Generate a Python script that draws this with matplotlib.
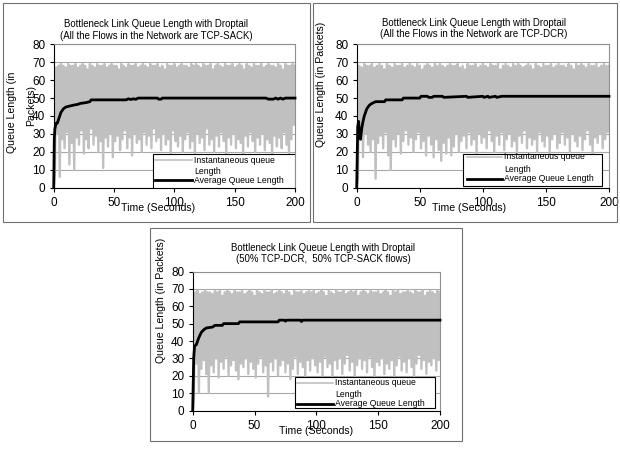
import numpy as np
import matplotlib
matplotlib.use('Agg')
from matplotlib import pyplot as plt
from matplotlib.patches import Rectangle

plt.rcParams['font.family'] = ['Liberation Sans', 'DejaVu Sans']

W, H = 620, 449
GRAY = '#c0c0c0'

# instantaneous queue: peaks at t = 0, 2, ..., 200 and troughs at t = 1, 3, ..., 199 (packets)
sack_highs = [0, 67, 68, 69, 68, 67, 69, 68, 68, 69,
              67, 68, 69, 68, 66, 69, 68, 67, 69, 68,
              68, 69, 67, 68, 69, 68, 68, 66, 69, 68,
              67, 69, 68, 68, 69, 67, 68, 69, 68, 67,
              69, 68, 68, 69, 67, 68, 66, 69, 68, 68,
              69, 67, 68, 69, 68, 68, 67, 69, 68, 69,
              68, 67, 69, 68, 68, 69, 66, 68, 69, 68,
              67, 69, 68, 68, 69, 67, 68, 69, 68, 66,
              69, 68, 67, 69, 68, 68, 69, 67, 68, 69,
              68, 68, 67, 69, 68, 66, 69, 68, 68, 69, 68]
sack_lows = [8, 30, 6, 27, 22, 31, 13, 25, 10, 28,
             24, 32, 19, 27, 22, 33, 24, 29, 20, 26,
             11, 28, 23, 30, 17, 26, 29, 21, 27, 32,
             22, 28, 18, 30, 25, 27, 20, 31, 24, 29,
             22, 33, 26, 28, 21, 30, 24, 27, 19, 32,
             26, 23, 29, 20, 27, 31, 22, 26, 19, 30,
             25, 28, 21, 33, 24, 27, 20, 29, 23, 31,
             26, 18, 28, 24, 30, 22, 27, 25, 19, 29,
             23, 31, 26, 20, 28, 24, 30, 21, 27, 25,
             18, 29, 23, 28, 22, 31, 24, 19, 27, 35]
sack_avg_t = [0, 0.5, 1, 2, 3, 4, 5, 6, 8, 10, 13, 16, 20, 22, 27, 30, 31, 60, 62, 64, 66, 68, 70,
              86, 87, 89, 90, 176, 178, 182, 184, 186, 188, 190, 192, 200]
sack_avg_q = [0, 28, 33, 36, 36, 38, 40, 42, 44, 45, 45.5, 46, 46.5, 47, 47.5, 48, 49, 49, 49.6, 49.2, 49.6, 49.3, 50,
              50, 49.4, 49.4, 50, 50, 49.4, 49.4, 50, 49.4, 50, 49.4, 50, 50]

dcr_highs = [0, 68, 67, 69, 68, 68, 69, 67, 68, 69,
             68, 66, 69, 68, 67, 69, 68, 68, 69, 67,
             68, 69, 68, 67, 69, 68, 66, 68, 69, 68,
             67, 69, 68, 69, 68, 67, 68, 69, 68, 68,
             69, 67, 68, 66, 69, 68, 68, 69, 67, 68,
             69, 68, 67, 69, 68, 68, 69, 66, 68, 69,
             68, 67, 69, 68, 69, 68, 67, 68, 69, 68,
             66, 69, 68, 67, 69, 68, 68, 69, 67, 68,
             69, 68, 68, 67, 69, 68, 66, 69, 68, 69,
             68, 67, 69, 68, 68, 69, 67, 68, 69, 68, 68]
dcr_lows = [6, 28, 17, 30, 24, 20, 27, 5, 25, 29,
            22, 31, 18, 10, 27, 23, 30, 19, 26, 32,
            24, 28, 20, 27, 31, 22, 26, 18, 29, 24,
            17, 27, 21, 15, 25, 19, 28, 18, 23, 30,
            20, 26, 29, 22, 31, 24, 27, 19, 30, 25,
            28, 22, 32, 26, 20, 29, 24, 31, 21, 27,
            30, 23, 26, 19, 29, 25, 32, 22, 28, 24,
            27, 20, 31, 26, 23, 29, 18, 27, 30, 22,
            25, 31, 24, 28, 20, 30, 26, 23, 29, 21,
            27, 32, 24, 19, 28, 25, 30, 22, 27, 31]
dcr_avg_t = [0, 0.8, 1.5, 2.2, 3, 4, 5, 6, 8, 10, 12, 15, 22, 23, 36, 37, 50, 51,
             56, 57, 60, 61, 68, 69, 87, 88, 100, 101, 104, 105, 110, 111, 115, 116, 200]
dcr_avg_q = [0, 34, 37, 30, 27, 33, 37, 40, 44, 46, 47, 48, 48, 49, 49, 50, 50, 51,
             51, 50.4, 50.4, 51, 51, 50.4, 51, 50.4, 51, 50.4, 51, 50.4, 51, 50.4, 51, 51, 51]

mix_highs = [0, 68, 69, 67, 68, 69, 68, 68, 67, 69,
             68, 69, 66, 68, 69, 68, 67, 69, 68, 68,
             69, 67, 68, 69, 68, 66, 69, 68, 67, 69,
             68, 68, 69, 67, 68, 69, 68, 67, 69, 68,
             66, 69, 68, 68, 69, 67, 68, 69, 68, 69,
             67, 68, 69, 68, 66, 69, 68, 67, 69, 68,
             68, 69, 67, 68, 69, 68, 69, 66, 68, 69,
             68, 67, 69, 68, 68, 69, 67, 68, 69, 68,
             66, 69, 68, 69, 67, 68, 68, 69, 68, 67,
             69, 68, 68, 69, 66, 68, 69, 68, 67, 69, 68]
mix_lows = [9, 27, 10, 24, 29, 21, 10, 26, 22, 30,
            19, 28, 24, 31, 20, 26, 29, 23, 18, 27,
            25, 30, 21, 28, 24, 19, 27, 31, 22, 26,
            8, 28, 23, 30, 20, 26, 29, 22, 27, 18,
            24, 31, 21, 28, 25, 19, 29, 23, 30, 26,
            22, 28, 20, 31, 25, 27, 19, 29, 24, 30,
            21, 27, 32, 23, 28, 20, 26, 30, 24, 29,
            22, 31, 25, 19, 28, 26, 30, 21, 27, 24,
            29, 20, 26, 31, 23, 28, 22, 30, 25, 19,
            27, 32, 24, 29, 21, 28, 26, 30, 23, 29]
mix_avg_t = [0, 0.8, 1.5, 3, 4, 5, 7, 9, 11, 16, 18, 24, 25, 37, 38, 69, 70, 74, 75, 76,
             87, 88, 89, 200]
mix_avg_q = [0, 30, 37, 38, 40, 42, 45, 46.5, 47.5, 48, 49, 49, 50, 50, 51, 51, 52, 52, 51.4, 52,
             52, 51.2, 52, 52]


def px_rect(x0, y0, x1, y1):
    # pixel box (top-left origin) -> figure fraction [left, bottom, width, height]
    return [x0 / W, 1 - y1 / H, (x1 - x0) / W, (y1 - y0) / H]


def queue_trace(highs, lows):
    q = np.empty(len(highs) + len(lows))
    q[0::2] = highs
    q[1::2] = lows
    return np.arange(len(q)), q


def draw_panel(fig, box, plot, highs, lows, avg_t, avg_q, legend):
    l, b, w, h = px_rect(*box)
    fig.patches.append(Rectangle((l, b), w, h, transform=fig.transFigure,
                                 fill=False, edgecolor='#707070', lw=0.8))
    ax = fig.add_axes(px_rect(*plot))
    t, q = queue_trace(highs, lows)
    ax.plot(t, q, color=GRAY, lw=1.7, zorder=2)
    ax.plot(avg_t, avg_q, color='black', lw=2, zorder=3, clip_on=False)
    ax.set_xlim(0, 200)
    ax.set_ylim(0, 80)
    ax.set_xticks(range(0, 201, 50))
    ax.set_yticks(range(0, 81, 10))
    ax.grid(axis='y', color='#a8a8a8', lw=0.8, zorder=0)
    ax.set_axisbelow(True)
    ax.tick_params(labelsize=8.5, length=3, width=0.8, direction='out')
    ax.tick_params(axis='y', pad=3)
    ax.tick_params(axis='x', pad=4)
    for side in ['top', 'right']:
        ax.spines[side].set_color('#909090')
    for side in ['left', 'bottom']:
        ax.spines[side].set_color('black')
    for s in ax.spines.values():
        s.set_linewidth(0.8)

    # legend box drawn in axes fraction
    bx0, by0, bx1, by1, lx0, lx1, tx, y_inst, y_len, y_avg = legend
    ax.add_patch(Rectangle((bx0, by0), bx1 - bx0, by1 - by0, transform=ax.transAxes,
                           facecolor='white', edgecolor='black', lw=0.8, zorder=5))
    ax.plot([lx0, lx1], [y_inst, y_inst], color=GRAY, lw=1.2, transform=ax.transAxes, zorder=6)
    ax.plot([lx0, lx1], [y_avg, y_avg], color='black', lw=2, transform=ax.transAxes, zorder=6)
    ax.text(tx, y_inst, 'Instantaneous queue', transform=ax.transAxes, fontsize=6.2, va='center', zorder=7)
    ax.text(tx, y_len, 'Length', transform=ax.transAxes, fontsize=6.2, va='center', zorder=7)
    ax.text(tx, y_avg, 'Average Queue Length', transform=ax.transAxes, fontsize=6.2, va='center', zorder=7)
    return ax


def fig_text(fig, x, y, s, **kw):
    fig.text(x / W, 1 - y / H, s, ha='center', va='center', **kw)


fig = plt.figure(figsize=(6.2, 4.49), dpi=100)

draw_panel(fig, (3, 3, 310, 222), (53.7, 44.3, 295, 187.7), sack_highs, sack_lows, sack_avg_t, sack_avg_q,
           (0.41, 0.0, 1.0, 0.233, 0.42, 0.572, 0.581, 0.19, 0.111, 0.051))
fig_text(fig, 156, 24.3, 'Bottleneck Link Queue Length with Droptail', fontsize=6.9)
fig_text(fig, 156, 35.7, '(All the Flows in the Network are TCP-SACK)', fontsize=6.9)
fig_text(fig, 12, 112, 'Queue Length (in', fontsize=7.6, rotation=90)
fig_text(fig, 31, 106, 'Packets)', fontsize=7.6, rotation=90)
fig_text(fig, 158, 208, 'Time (Seconds)', fontsize=7.6)

draw_panel(fig, (313, 3, 617, 222), (356.7, 44.3, 609, 187.7), dcr_highs, dcr_lows, dcr_avg_t, dcr_avg_q,
           (0.4225, 0.015, 0.971, 0.233, 0.437, 0.575, 0.584, 0.216, 0.128, 0.061))
fig_text(fig, 474, 23.3, 'Bottleneck Link Queue Length with Droptail', fontsize=6.9)
fig_text(fig, 474, 34.3, '(All the Flows in the Network are TCP-DCR)', fontsize=6.9)
fig_text(fig, 321, 84, 'Queue Length (in Packets)', fontsize=7.6, rotation=90)
fig_text(fig, 469, 208, 'Time (Seconds)', fontsize=7.6)

draw_panel(fig, (150, 228, 462, 441), (192.7, 271.5, 440, 410.5), mix_highs, mix_lows, mix_avg_t, mix_avg_q,
           (0.414, 0.015, 0.98, 0.24, 0.42, 0.569, 0.576, 0.2, 0.118, 0.05))
fig_text(fig, 323, 248.3, 'Bottleneck Link Queue Length with Droptail', fontsize=6.9)
fig_text(fig, 323, 259.3, '(50% TCP-DCR,  50% TCP-SACK flows)', fontsize=6.9)
fig_text(fig, 161, 300, 'Queue Length (in Packets)', fontsize=7.6, rotation=90)
fig_text(fig, 316, 431, 'Time (Seconds)', fontsize=7.6)

fig.savefig('out.png', dpi=100)
